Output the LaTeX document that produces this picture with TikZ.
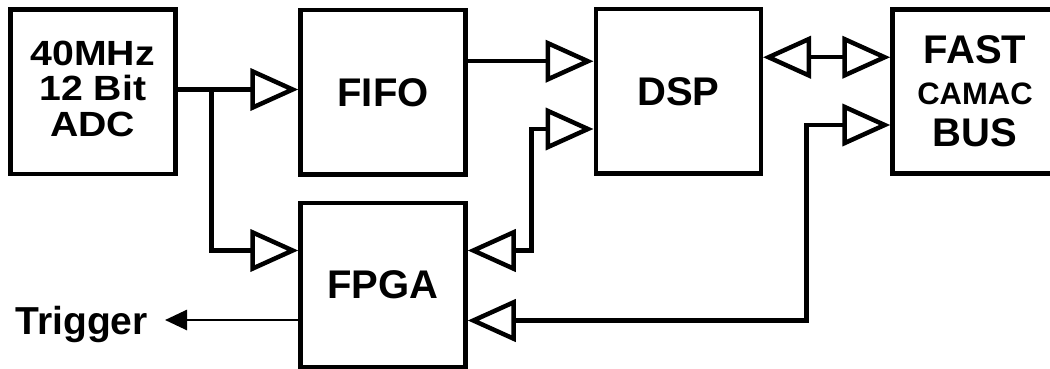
\documentclass[tikz,border=0pt]{standalone}
\usepackage{fontspec}
\setmainfont{Liberation Sans}
\usetikzlibrary{arrows.meta}

\begin{document}
\begin{tikzpicture}[
                x=1pt, y=-1pt,
                block/.style={rectangle, draw=black, line width=4.5pt, minimum width=165pt, minimum height=164pt, inner sep=0pt, align=center, font=\fontsize{40}{42}\selectfont\bfseries},
                adctext/.style={align=center, inner sep=0pt, xscale=1.12, yshift=3pt, font=\fontsize{35}{35.5}\selectfont\bfseries},
                bus/.style={line width=4.5pt, draw=black},
                sig/.style={line width=2.7pt, draw=black},
                hollow/.tip={Triangle[open, length=48pt, width=42pt]},
                solid/.tip={Triangle[length=22pt, width=20pt]}
            ]
            \useasboundingbox (0,0) rectangle (1050,369);
            \clip (0,0) rectangle (1050,369);

            % Blocks
            \node[block, label={[adctext]center:{40MHz\\12 Bit\\ADC}}] (adc) at (92.75, 91.75) {};
            \node[block] (fifo) at (383, 92.25) {FIFO};
            \node[block] (fpga) at (383, 285) {FPGA};
            \node[block] (dsp) at (678.25, 91.25) {DSP};
            \node[block] (cam) at (975, 91.5) {FAST\\[-1pt]{\fontsize{31}{32}\selectfont CAMAC}\\BUS};
            \node[anchor=east, inner sep=0pt, text height=28pt, text depth=0pt, font=\fontsize{39}{42}\selectfont\bfseries] (trig) at (148, 320) {Trigger};

            % Bend points
            \coordinate (split) at (211.5, 89.5);
            \coordinate (upbend) at (531.5, 129);
            \coordinate (lowbend) at (531.5, 250.5);
            \coordinate (camup) at (806.5, 125);
            \coordinate (camlow) at (806.5, 320.5);

            % Connections
            \draw[bus, -hollow] (adc.east |- split) -- (fifo.west |- split);
            \draw[bus, -hollow] (split) |- (fpga.west |- lowbend);
            \draw[bus, -hollow] ([yshift=31pt]fifo.east) -- ([yshift=31pt]fifo.east -| dsp.west);
            \draw[bus, hollow-hollow] ([yshift=34pt]dsp.east) -- ([yshift=34pt]dsp.east -| cam.west);
            \draw[bus, hollow-hollow] (fpga.east |- lowbend) -| (upbend) -- (dsp.west |- upbend);
            \draw[bus, hollow-hollow] (fpga.east |- camlow) -| (camup) -- (cam.west |- camup);
            \draw[sig, -solid] (fpga.west |- trig) -- ([xshift=17pt]trig.east);
\end{tikzpicture}
\end{document}
